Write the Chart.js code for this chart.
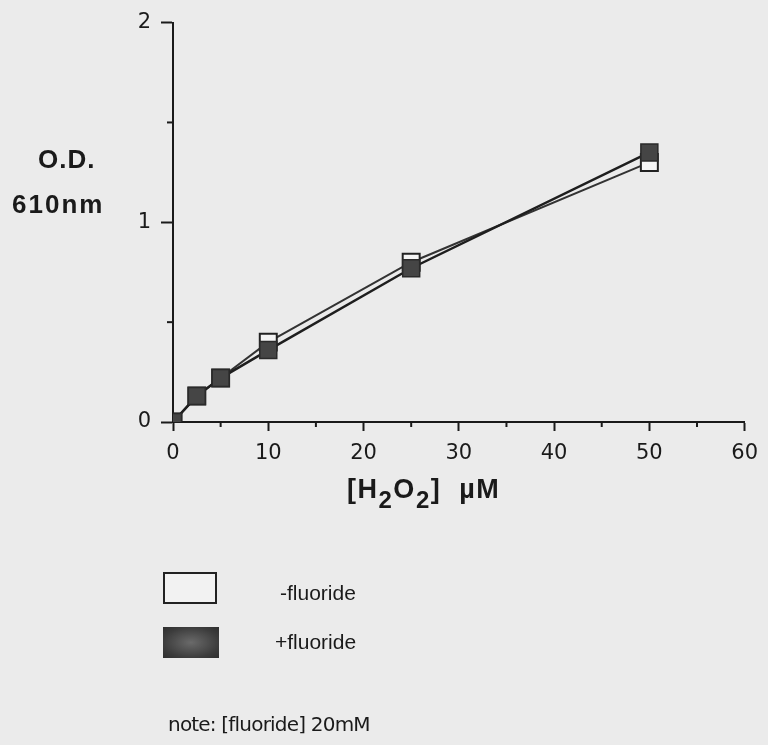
<!DOCTYPE html>
<html>
<head>
<meta charset="utf-8">
<script src="https://cdn.jsdelivr.net/npm/chart.js@4/dist/chart.umd.min.js"></script>
<style>
  html, body { margin:0; padding:0; background:#ebebeb; }
  #wrap { position:relative; width:768px; height:745px; background:#ebebeb; overflow:hidden; }
  #c { position:absolute; left:0; top:0; }
  .t { position:absolute; color:#1a1a1a; white-space:nowrap; font-family:"Liberation Sans", Arial, sans-serif; }
  .yt { font-weight:bold; font-size:26px; letter-spacing:1px; }
  .xt { font-weight:bold; font-size:27px; letter-spacing:1.5px; }
  .lg { font-size:21px; }
  .box { position:absolute; box-sizing:border-box; }
</style>
</head>
<body>
<div id="wrap">
  <canvas id="c" width="768" height="745"></canvas>
  <div class="t yt" style="left:38px; top:144px;">O.D.</div>
  <div class="t yt" style="left:12px; top:189px; letter-spacing:2px;">610nm</div>
  <div class="t xt" style="left:347px; top:474px;">[H<sub style="font-size:24px; vertical-align:-10px;">2</sub>O<sub style="font-size:24px; vertical-align:-10px;">2</sub>]&nbsp; µM</div>
  <div class="box" style="left:163px; top:572px; width:54px; height:32px; border:2px solid #222; background:#f2f2f2;"></div>
  <div class="t lg" style="left:280px; top:581px;">-fluoride</div>
  <div class="box" style="left:163px; top:627px; width:56px; height:31px; background:radial-gradient(ellipse at center, #6a6a6a 0%, #3c3c3c 70%, #2e2e2e 100%);"></div>
  <div class="t lg" style="left:275px; top:630px;">+fluoride</div>
  <div class="t" style="left:168px; top:712px; font-size:20px; font-family:'DejaVu Sans', sans-serif; letter-spacing:-0.8px;">note: [fluoride] 20mM</div>
</div>
<script>
const h2o2 = [0, 2.5, 5, 10, 25, 50];
const minusFluoride = [0, 0.13, 0.22, 0.40, 0.80, 1.30];
const plusFluoride  = [0, 0.13, 0.22, 0.36, 0.77, 1.35];
const xTicks = [0, 10, 20, 30, 40, 50, 60];
const yTicks = [0, 1, 2];
const seriesNames = ['-fluoride', '+fluoride'];

const pts = (xs, ys) => xs.map((x, i) => ({x, y: ys[i]}));

const minorTicks = {
  id: 'minorTicks',
  afterDraw(chart) {
    const ctx = chart.ctx;
    const xs = chart.scales.x, ys = chart.scales.y;
    ctx.save();
    ctx.strokeStyle = '#1a1a1a';
    ctx.lineWidth = 2;
    const y0 = ys.getPixelForValue(0);
    for (let v = 5; v < 60; v += 10) {
      const px = xs.getPixelForValue(v);
      ctx.beginPath(); ctx.moveTo(px, y0); ctx.lineTo(px, y0 + 5); ctx.stroke();
    }
    const x0 = xs.getPixelForValue(0);
    [0.5, 1.5].forEach(v => {
      const py = ys.getPixelForValue(v);
      ctx.beginPath(); ctx.moveTo(x0, py); ctx.lineTo(x0 - 6, py); ctx.stroke();
    });
    ctx.restore();
  }
};

new Chart(document.getElementById('c'), {
  type: 'scatter',
  data: {
    datasets: [
      {
        label: seriesNames[1],
        data: pts(h2o2, plusFluoride),
        showLine: true,
        borderColor: '#1e1e1e',
        borderWidth: 2.5,
        pointStyle: 'rect',
        pointRadius: 12,
        pointBackgroundColor: '#454545',
        pointBorderColor: '#2a2a2a',
        pointBorderWidth: 1.5,
        order: 0
      },
      {
        label: seriesNames[0],
        data: pts(h2o2, minusFluoride),
        showLine: true,
        borderColor: '#333',
        borderWidth: 2,
        pointStyle: 'rect',
        pointRadius: 12,
        pointBackgroundColor: '#f4f4f4',
        pointBorderColor: '#222',
        pointBorderWidth: 2,
        order: 1
      }
    ]
  },
  options: {
    responsive: false,
    animation: false,
    layout: { padding: { left: 0, top: 22, right: 22, bottom: 283 } },
    plugins: { legend: { display: false }, tooltip: { enabled: false } },
    scales: {
      x: {
        type: 'linear', min: 0, max: 60,
        afterFit: s => { s.height = 40; },
        afterBuildTicks: s => { s.ticks = xTicks.map(v => ({value: v})); },
        border: { display: true, color: '#1a1a1a', width: 2 },
        grid: { drawOnChartArea: false, drawTicks: true, tickLength: 9, tickColor: '#1a1a1a', tickWidth: 2 },
        ticks: { color: '#1a1a1a', font: { family: 'DejaVu Sans', size: 21 }, padding: 10, maxRotation: 0 }
      },
      y: {
        type: 'linear', min: 0, max: 2,
        afterFit: s => { s.width = 173; },
        afterBuildTicks: s => { s.ticks = yTicks.map(v => ({value: v})); },
        border: { display: true, color: '#1a1a1a', width: 2 },
        grid: { drawOnChartArea: false, drawTicks: true, tickLength: 12, tickColor: '#1a1a1a', tickWidth: 2 },
        ticks: { color: '#1a1a1a', font: { family: 'DejaVu Sans', size: 21 }, padding: 10 }
      }
    }
  },
  plugins: [minorTicks]
});
</script>
</body>
</html>
